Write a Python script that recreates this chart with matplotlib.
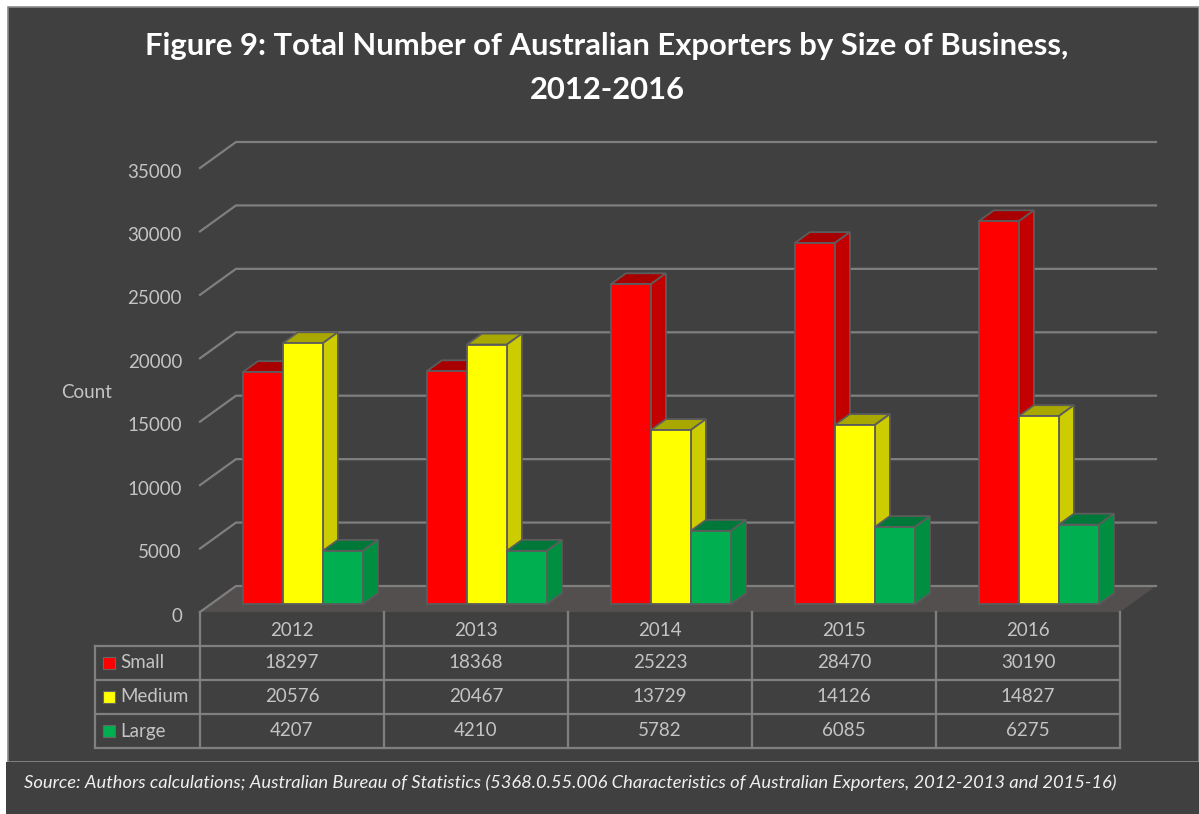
import matplotlib
matplotlib.use("Agg")
import matplotlib.pyplot as plt
from matplotlib.patches import Polygon, Rectangle

# ---------------- data ----------------
years = ["2012", "2013", "2014", "2015", "2016"]
series_names = ["Small", "Medium", "Large"]
small = [18297, 18368, 25223, 28470, 30190]
medium = [20576, 20467, 13729, 14126, 14827]
large = [4207, 4210, 5782, 6085, 6275]
y_ticks = [0, 5000, 10000, 15000, 20000, 25000, 30000, 35000]
axis_title = "Count"
title = "Figure 9: Total Number of Australian Exporters by Size of Business,\n2012-2016"
source = ("Source: Authors calculations; Australian Bureau of Statistics (5368.0.55.006 "
          "Characteristics of Australian Exporters, 2012-2013 and 2015-16)")

series = [small, medium, large]

# ---------------- style ----------------
FONT = ["Lato", "DejaVu Sans"]
plt.rcParams["font.family"] = FONT
BG = "#404040"
GRID = "#7f7f7f"
FLOOR = "#534f4f"
EDGE = "#5c5c5c"
TXT = "#c4c4c4"
front_colors = ["#FF0000", "#FFFF00", "#00B050"]
top_colors = ["#A80000", "#A8A800", "#00783A"]
side_colors = ["#C20000", "#CCCC00", "#008E40"]

W, H = 1199, 814
fig = plt.figure(figsize=(W / 100, H / 100), dpi=100, facecolor="white")


def fx(px):
    return px / W


def fy(py):
    return 1 - py / H


# background boxes
fig.patches.append(Rectangle((fx(8), fy(762)), fx(1199) - fx(8), fy(7) - fy(762),
                             transform=fig.transFigure, facecolor=BG,
                             edgecolor="#8a8a8a", lw=1.2, zorder=-10))
fig.patches.append(Rectangle((fx(6), fy(814)), fx(1199) - fx(6), fy(762) - fy(814),
                             transform=fig.transFigure, facecolor=BG,
                             edgecolor="none", zorder=-10))

# ---------------- main (3D-look) axes ----------------
CAT_PX = 184.0            # pixels per category on front plane
VAL_PX = 444.0 / 35000.0  # pixels per value unit
DX_PX, DY_PX = 36.0, 26.0  # full-depth offset in pixels
L, R, T, B = 200, 1160, 140, 612

ax = fig.add_axes([fx(L), fy(B), fx(R) - fx(L), fy(T) - fy(B)], zorder=1)
ax.set_xlim(-0.5, -0.5 + (R - L) / CAT_PX)
ax.set_ylim(0, (B - T) / VAL_PX)
ax.axis("off")
ax.patch.set_visible(False)


def depth(d):
    return d * DX_PX / CAT_PX, d * DY_PX / VAL_PX


n = len(years)
bx, by = depth(1.0)
x0, x1 = -0.5, n - 0.5

# floor
ax.add_patch(Polygon([(x0, 0), (x1, 0), (x1 + bx, by), (x0 + bx, by)],
                     closed=True, facecolor=FLOOR, edgecolor="none", zorder=1))
# back wall gridlines with left diagonal
for v in y_ticks:
    ax.plot([x0, x0 + bx, x1 + bx], [v, v + by, v + by], color=GRID, lw=1.6,
            solid_joinstyle="miter", zorder=2, clip_on=False)
    ax.text(x0 - 18 / CAT_PX, v - 320, f"{v}", ha="right", va="center",
            color=TXT, fontsize=13.5)

# bars
w = 40.0 / CAT_PX
d0, d1 = 0.30, 0.72
dx0, dy0 = depth(d0)
ddx, ddy = depth(d1 - d0)
for k, vals in enumerate(series):
    xs = [i + (k - 1) * w + dx0 for i in range(n)]
    z = 3 + k
    ax.bar(xs, vals, width=w, bottom=dy0, color=front_colors[k], edgecolor=EDGE,
           lw=1.3, zorder=z + 0.5, clip_on=False)
    for xc, v in zip(xs, vals):
        xl, xr = xc - w / 2, xc + w / 2
        top = v + dy0
        ax.add_patch(Polygon([(xl, top), (xr, top), (xr + ddx, top + ddy), (xl + ddx, top + ddy)],
                             closed=True, facecolor=top_colors[k], edgecolor=EDGE,
                             lw=1.3, zorder=z, clip_on=False))
        ax.add_patch(Polygon([(xr, dy0), (xr, top), (xr + ddx, top + ddy), (xr + ddx, dy0 + ddy)],
                             closed=True, facecolor=side_colors[k], edgecolor=EDGE,
                             lw=1.3, zorder=z, clip_on=False))

fig.text(fx(87), fy(392), axis_title, ha="center", va="center", color=TXT, fontsize=13.5)

# ---------------- data table ----------------
TL, TR, TT, TB = 95, 1160, 612, 748
tax = fig.add_axes([fx(TL), fy(TB), fx(TR) - fx(TL), fy(TT) - fy(TB)], zorder=1)
leg_x = -0.5 - (L - TL) / CAT_PX
tax.set_xlim(leg_x, -0.5 + (R - L) / CAT_PX)
tax.set_ylim(0, 4)
tax.axis("off")
tax.patch.set_visible(False)

LINE = "#808080"
for j in range(n + 1):
    tax.plot([x0 + j, x0 + j], [0, 4], color=LINE, lw=1.6, clip_on=False,
             solid_capstyle="projecting")
tax.plot([leg_x, leg_x], [0, 3], color=LINE, lw=1.6, clip_on=False,
         solid_capstyle="projecting")
for r in range(4):
    tax.plot([leg_x, x1], [r, r], color=LINE, lw=1.6, clip_on=False,
             solid_capstyle="projecting")

for i, yr in enumerate(years):
    tax.text(i, 3.45, yr, ha="center", va="center", color=TXT, fontsize=13.5)
for k, vals in enumerate(series):
    yrow = 2.5 - k
    for i, v in enumerate(vals):
        tax.text(i, yrow, f"{v}", ha="center", va="center", color=TXT, fontsize=13.5)
    tax.plot([leg_x + 14 / CAT_PX], [yrow], marker="s", ms=8.5,
             color=front_colors[k], mec="#666666", mew=0.8, clip_on=False)
    tax.text(leg_x + 25 / CAT_PX, yrow, series_names[k], ha="left", va="center",
             color=TXT, fontsize=13.5)

# ---------------- titles ----------------
fig.text(fx(607), fy(68), title, ha="center", va="center", color="white",
         fontsize=22.3, fontweight="bold", linespacing=1.7)
fig.text(fx(24), fy(783), source, ha="left", va="center", color="#f0f0f0",
         fontsize=13.2, style="italic")

fig.savefig("out.png", dpi=100, facecolor="white")
